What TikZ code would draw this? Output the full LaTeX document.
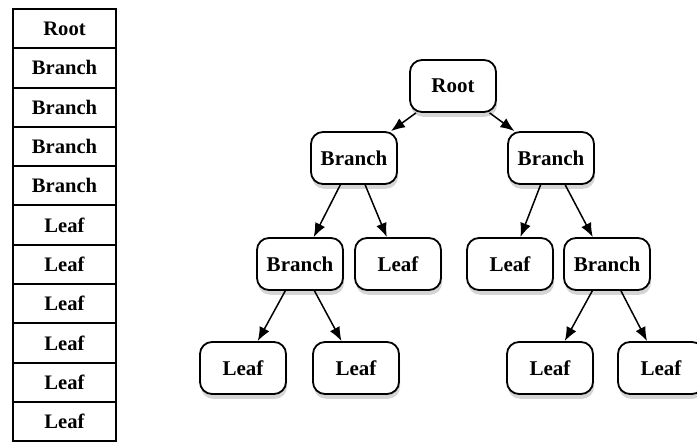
\documentclass[tikz,border=0pt]{standalone}
\usepackage{fontspec}
\setmainfont{Liberation Serif}
\usetikzlibrary{shadows}
\usetikzlibrary{positioning}
\usetikzlibrary{arrows,arrows.meta,shapes}

\tikzset{
  cell/.style={draw, line width=1pt, minimum width=51.5pt, minimum height=19.65pt,
    inner sep=0pt, font=\fontsize{10.3}{12}\selectfont\bfseries},
  tnode/.style={draw, line width=0.9pt, rounded corners=6pt, fill=white,
    minimum width=43pt, minimum height=26pt, inner sep=0pt,
    drop shadow={shadow xshift=0.5pt, shadow yshift=-2.4pt, opacity=0.3, fill=black!55},
    font=\fontsize{10.5}{12}\selectfont\bfseries},
  tedge/.style={line width=0.75pt, -{Latex[length=7pt,width=5.5pt]}}
}

\begin{document}
\begin{tikzpicture}[x=0.5pt,y=-0.5pt]
 \useasboundingbox (0,0) rectangle (697,442);

 % table
 \foreach \i/\name in {0/Root, 1/Branch, 2/Branch, 3/Branch, 4/Branch,
   5/Leaf, 6/Leaf, 7/Leaf, 8/Leaf, 9/Leaf, 10/Leaf} {
   \node[cell] (cell\i) at (64.5, 28.65+\i*39.3) {\name};
 }

 % tree
 \node[tnode] (root) at (453,86) {Root};

 \node[tnode] (br1) at (354,158) {Branch};
 \node[tnode] (br2) at (551,158) {Branch};

 \node[tnode] (br3) at (300,264) {Branch};
 \node[tnode] (lf1) at (398,264) {Leaf};
 \node[tnode] (lf2) at (510,264) {Leaf};
 \node[tnode] (br4) at (607,264) {Branch};

 \node[tnode] (lf3) at (243,368) {Leaf};
 \node[tnode] (lf4) at (356,368) {Leaf};
 \node[tnode] (lf5) at (550,368) {Leaf};
 \node[tnode] (lf6) at (661,368) {Leaf};

 \foreach \a/\b in {root/br1, root/br2, br1/br3, br1/lf1, br2/lf2, br2/br4,
   br3/lf3, br3/lf4, br4/lf5, br4/lf6} {
   \draw[tedge] (\a) -- (\b);
 }

\end{tikzpicture}
\end{document}
